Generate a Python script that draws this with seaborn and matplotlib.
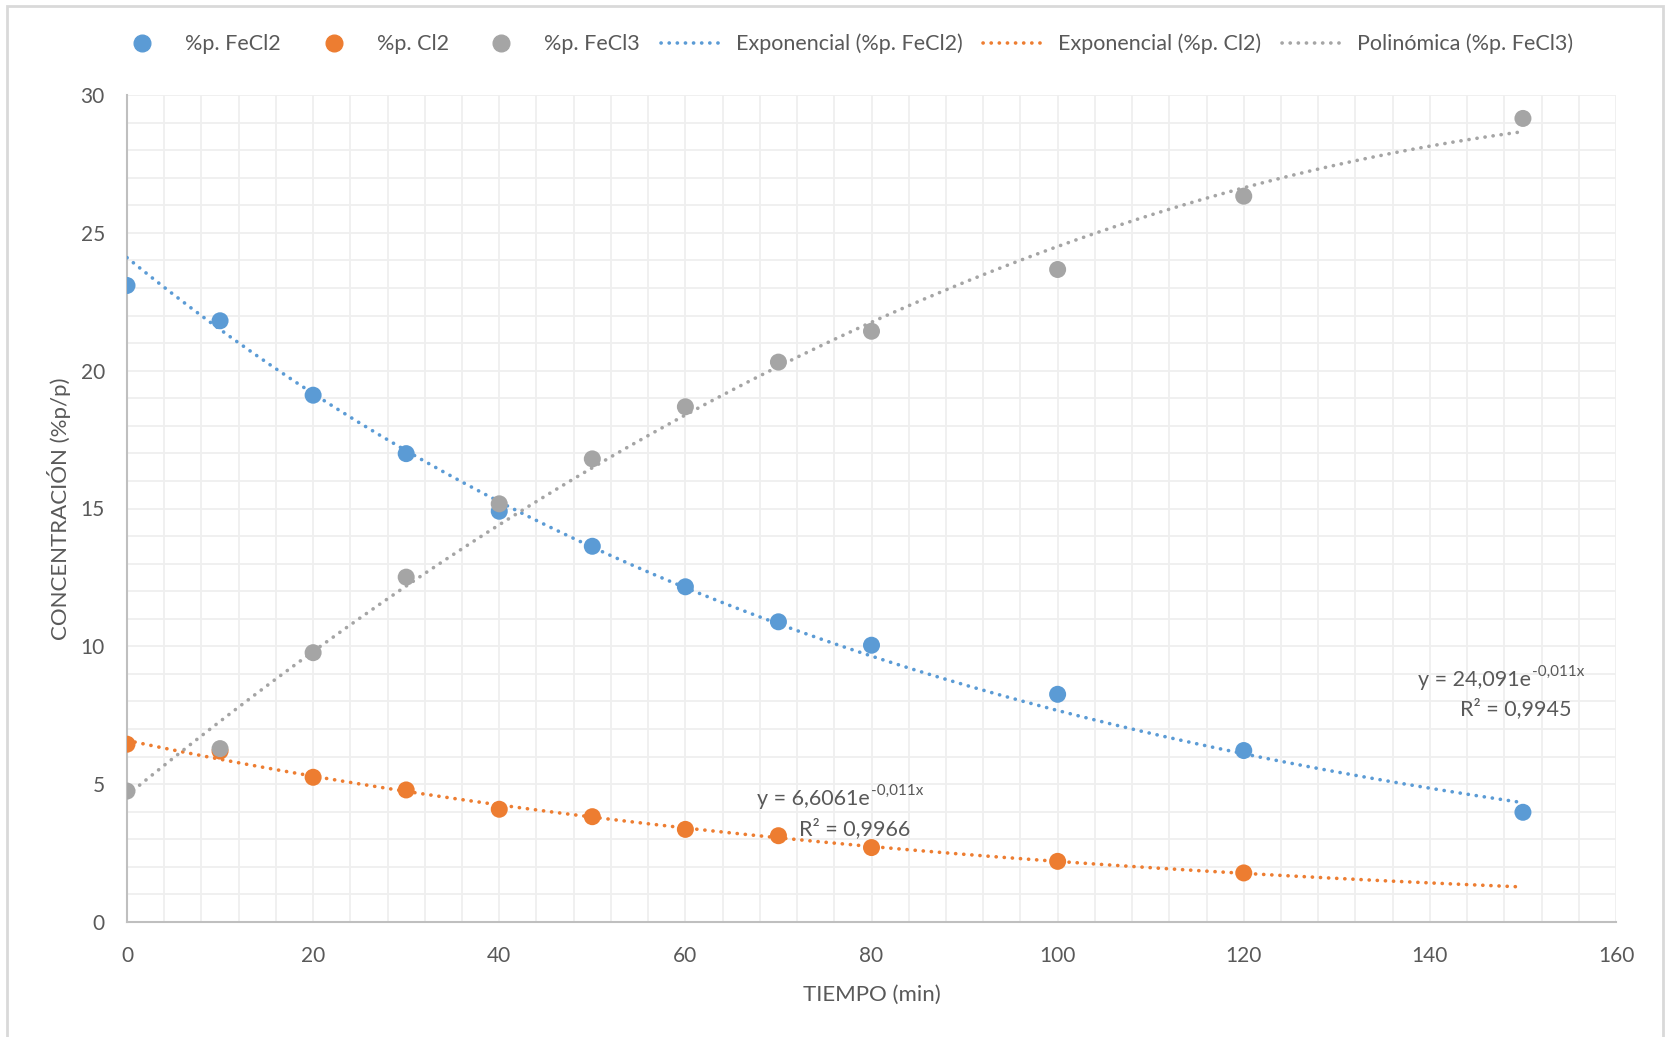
import numpy as np
import pandas as pd
import matplotlib
matplotlib.use("Agg")
import matplotlib.pyplot as plt
from matplotlib.lines import Line2D
from matplotlib.patches import Rectangle
import seaborn as sns

# ---- data ----
tiempo = [0, 10, 20, 30, 40, 50, 60, 70, 80, 100, 120, 150]
fecl2 = [23.09, 21.81, 19.11, 16.99, 14.90, 13.63, 12.16, 10.89, 10.04, 8.26, 6.22, 3.98]
tiempo_cl2 = [0, 10, 20, 30, 40, 50, 60, 70, 80, 100, 120]
cl2 = [6.45, 6.20, 5.25, 4.79, 4.09, 3.82, 3.36, 3.13, 2.70, 2.20, 1.78]
fecl3 = [4.75, 6.29, 9.77, 12.51, 15.17, 16.80, 18.69, 20.31, 21.43, 23.67, 26.33, 29.15]

series_names = ["%p. FeCl2", "%p. Cl2", "%p. FeCl3"]
trend_names = ["Exponencial (%p. FeCl2)", "Exponencial (%p. Cl2)", "Polinómica (%p. FeCl3)"]
colors = ["#5B9BD5", "#ED7D31", "#A5A5A5"]
xlabel = "TIEMPO (min)"
ylabel = "CONCENTRACIÓN (%p/p)"
eq_fecl2 = ["y = 24,091e", "-0,011x", "R² = 0,9945"]
eq_cl2 = ["y = 6,6061e", "-0,011x", "R² = 0,9966"]

sns.set_style("white")
plt.rcParams["font.family"] = ["Lato", "DejaVu Sans"]

txt = "#595959"

pts = pd.concat([
    pd.DataFrame({"t": tiempo, "c": fecl2, "s": series_names[0]}),
    pd.DataFrame({"t": tiempo_cl2, "c": cl2, "s": series_names[1]}),
    pd.DataFrame({"t": tiempo, "c": fecl3, "s": series_names[2]}),
])

# trend lines fitted from the data (exponential = log-linear fit, polynomial order 2)
xs = np.linspace(0, 150, 200)
k1, l1 = np.polyfit(tiempo, np.log(fecl2), 1)
k2, l2 = np.polyfit(tiempo_cl2, np.log(cl2), 1)
poly = np.polyfit(tiempo, fecl3, 2)
trend = pd.concat([
    pd.DataFrame({"t": xs, "c": np.exp(l1 + k1 * xs), "s": trend_names[0]}),
    pd.DataFrame({"t": xs, "c": np.exp(l2 + k2 * xs), "s": trend_names[1]}),
    pd.DataFrame({"t": xs, "c": np.polyval(poly, xs), "s": trend_names[2]}),
])

fig = plt.figure(figsize=(16.70, 10.37), dpi=100)
ax = fig.add_axes([127 / 1670, 1 - 922 / 1037, (1616 - 127) / 1670, (922 - 95) / 1037])

dot_style = (0, (0.05, 2.2))
for name, col in zip(trend_names, colors):
    d = trend[trend["s"] == name]
    sns.lineplot(data=d, x="t", y="c", ax=ax, color=col, lw=2.6,
                 legend=False, sort=False, estimator=None, zorder=3)
for line in ax.lines:
    line.set_linestyle(dot_style)
    line.set_dash_capstyle("round")

sns.scatterplot(data=pts, x="t", y="c", hue="s", palette=colors, s=150,
                edgecolor="none", ax=ax, legend=False, zorder=4)

ax.set_xlim(0, 160)
ax.set_ylim(0, 30)
ax.set_xticks(np.arange(0, 161, 20))
ax.set_yticks(np.arange(0, 31, 5))
ax.set_xticks(np.arange(0, 161, 4), minor=True)
ax.set_yticks(np.arange(0, 31, 1), minor=True)
ax.grid(True, which="both", color="#EFEFEF", lw=1.3, zorder=0)
ax.set_axisbelow(True)
for s in ["top", "right"]:
    ax.spines[s].set_visible(False)
for s in ["left", "bottom"]:
    ax.spines[s].set_color("#BFBFBF")
    ax.spines[s].set_linewidth(1.5)
ax.tick_params(axis="both", which="both", length=0, labelsize=15, labelcolor=txt)
ax.tick_params(axis="x", pad=17)
ax.tick_params(axis="y", pad=16)
ax.set_xlabel(xlabel, fontsize=16, color=txt, labelpad=14)
ax.set_ylabel(ylabel, fontsize=16, color=txt, labelpad=7)

# equations (main part right-aligned, superscript placed after it)
def equation(x_split, y1, y2, parts):
    ax.text(x_split, y1, parts[0], ha="right", va="center", fontsize=15.5, color=txt)
    ax.annotate(parts[1], xy=(x_split, y1), xytext=(1, 6), textcoords="offset points",
                ha="left", va="center", fontsize=11, color=txt)
    ax.text(x_split - 1.6, y2, parts[2], ha="center", va="center", fontsize=15.5, color=txt)

equation(150.85, 8.78, 7.75, eq_fecl2)
equation(79.8, 4.45, 3.4, eq_cl2)

handles = [Line2D([], [], marker="o", color=c, linestyle="none", markersize=12) for c in colors]
handles += [Line2D([], [], color=c, lw=2.6, linestyle=(0, (0.05, 2.2)), dash_capstyle="round") for c in colors]
fig.legend(handles, series_names + trend_names, loc="center", bbox_to_anchor=(0.504, 1 - 44 / 1037),
           ncol=6, frameon=False, fontsize=15.5, labelcolor=txt, handlelength=3.0,
           columnspacing=0.95, handletextpad=0.5)

fig.patches.append(Rectangle((7 / 1670, -0.01), (1663 - 7) / 1670, 1.01 - 6 / 1037,
                             transform=fig.transFigure, fill=False, edgecolor="#D9D9D9", lw=2))

fig.savefig("out.png", dpi=100)
